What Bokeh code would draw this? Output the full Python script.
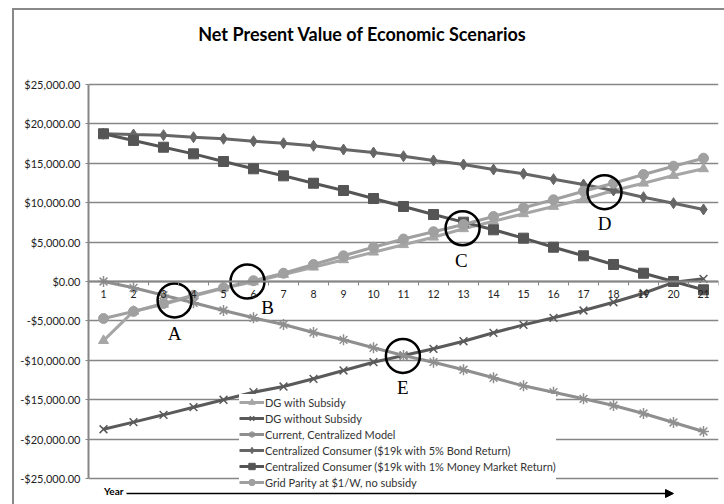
from bokeh.plotting import figure
from bokeh.models import (Range1d, FixedTicker, NumeralTickFormatter, Legend, LegendItem,
                          Label, Arrow, NormalHead)
from bokeh.embed import file_html
from bokeh.resources import INLINE

years = list(range(1, 22))
dg_with_subsidy = [-7500, -3800, -2900, -1850, -850, -50, 890, 1815, 2750, 3720, 4670, 5620,
                   6690, 7650, 8590, 9520, 10440, 11550, 12470, 13450, 14300]
dg_without_subsidy = [-18750, -17850, -16920, -15950, -15010, -14050, -13330, -12350, -11290,
                      -10240, -9390, -8540, -7580, -6510, -5500, -4610, -3680, -2630, -1490, -100, 340]
current_model = [0, -800, -1750, -2700, -3680, -4610, -5460, -6470, -7400, -8410, -9390, -10240,
                 -11200, -12220, -13240, -14050, -14890, -15740, -16750, -17890, -19030]
bond_5pct = [18750, 18650, 18570, 18310, 18110, 17800, 17550, 17220, 16750, 16370, 15900, 15360,
             14850, 14210, 13670, 12980, 12310, 11550, 10700, 9940, 9140]
money_market_1pct = [18750, 17900, 17040, 16200, 15230, 14300, 13410, 12470, 11550, 10530, 9520,
                     8500, 7530, 6560, 5500, 4350, 3260, 2160, 1050, 0, -1050]
grid_parity = [-4700, -3800, -2800, -1750, -800, 100, 1050, 2160, 3260, 4350, 5390, 6320, 7230,
               8250, 9350, 10370, 11460, 12470, 13580, 14630, 15650]

series_names = ["DG with Subsidy", "DG without Subsidy", "Current, Centralized Model",
                "Centralized Consumer ($19k with 5% Bond Return)",
                "Centralized Consumer ($19k with 1% Money Market Return)",
                "Grid Parity at $1/W, no subsidy"]

# crossing annotations
mark_labels = ["A", "B", "C", "D", "E"]
mark_x = [3.37, 5.8, 12.97, 17.7, 10.98]
mark_y = [-2400, 0, 6760, 11330, -9450]
label_x = [3.37, 6.47, 12.93, 17.7, 10.98]
label_y = [-6600, -3300, 2660, 7320, -13490]

y_ticks = [-25000, -20000, -15000, -10000, -5000, 0, 5000, 10000, 15000, 20000, 25000]
Y_MIN, Y_MAX = -25000, 25000

# frame spans the full canvas height: value axis from -25000 (px 478) to 25000 (px 84)
PX = (Y_MAX - Y_MIN) / 394.0
FONT = "Lato"
p = figure(width=724, height=504, output_backend="svg", toolbar_location=None,
           x_range=Range1d(0.5, 21.5),
           y_range=Range1d(Y_MIN - 26 * PX, Y_MAX + 84 * PX),
           min_border_left=88, min_border_right=6, min_border_top=0, min_border_bottom=0)
p.outline_line_color = None
p.background_fill_color = "white"
p.border_fill_color = "white"
p.stylesheets = [":host{position:relative;} :host::after{content:'';position:absolute;left:12px;top:8px;"
                 "right:0;bottom:0;border-left:2.5px solid #888888;border-top:2.5px solid #888888;"
                 "pointer-events:none;z-index:100;}"]

# axes
p.xaxis.fixed_location = 0
p.xaxis.ticker = FixedTicker(ticks=years, minor_ticks=[y + 0.5 for y in range(0, 22)])
p.xaxis.axis_line_color = "#868686"
p.xaxis.axis_line_width = 2
p.xaxis.major_tick_out = 0
p.xaxis.major_tick_in = 0
p.xaxis.minor_tick_out = 4
p.xaxis.minor_tick_in = 0
p.xaxis.minor_tick_line_color = "#868686"
p.xaxis.major_label_standoff = 4
p.xaxis.major_label_text_font = FONT
p.xaxis.major_label_text_font_size = "10.5px"
p.xaxis.major_label_text_color = "#222222"

p.yaxis.ticker = FixedTicker(ticks=y_ticks)
p.yaxis.bounds = (Y_MIN, Y_MAX)
p.yaxis.formatter = NumeralTickFormatter(format="$0,0.00")
p.yaxis.axis_line_color = "#868686"
p.yaxis.axis_line_width = 2
p.yaxis.major_tick_out = 3
p.yaxis.major_tick_in = 0
p.yaxis.major_tick_line_color = "#868686"
p.yaxis.minor_tick_line_color = None
p.yaxis.major_label_standoff = 5
p.yaxis.major_label_text_font = FONT
p.yaxis.major_label_text_font_size = "11px"
p.yaxis.major_label_text_color = "#222222"

p.xgrid.grid_line_color = None
p.ygrid.grid_line_color = "#868686"
p.ygrid.grid_line_width = 1.5

LW = 3
r1 = p.line(years, dg_with_subsidy, line_color="#a6a6a6", line_width=LW)
m1 = p.scatter(years, dg_with_subsidy, marker="triangle", size=10, color="#a6a6a6")
r2 = p.line(years, dg_without_subsidy, line_color="#5a5a5a", line_width=LW)
m2 = p.scatter(years, dg_without_subsidy, marker="x", size=11, line_color="#5a5a5a", line_width=1.5)
r3 = p.line(years, current_model, line_color="#8f8f8f", line_width=LW)
m3 = p.scatter(years, current_model, marker="asterisk", size=11, line_color="#8f8f8f", line_width=1.5)
r4 = p.line(years, bond_5pct, line_color="#666666", line_width=LW)
m4 = p.scatter(years, bond_5pct, marker="diamond", size=11, color="#666666")
r5 = p.line(years, money_market_1pct, line_color="#555555", line_width=LW)
m5 = p.scatter(years, money_market_1pct, marker="square", size=10, color="#555555")
r6 = p.line(years, grid_parity, line_color="#a0a0a0", line_width=LW)
m6 = p.scatter(years, grid_parity, marker="circle", size=10, color="#a0a0a0")

# annotation circles and letters
p.scatter(mark_x, mark_y, marker="circle", size=34, fill_alpha=0, line_color="black", line_width=2.5)
for t, lx, ly in zip(mark_labels, label_x, label_y):
    p.add_layout(Label(x=lx, y=ly, text=t, text_font="Liberation Serif", text_font_size="19px",
                       text_align="center", text_baseline="middle", text_color="black"))

legend = Legend(items=[LegendItem(label=series_names[0], renderers=[r1, m1]),
                       LegendItem(label=series_names[1], renderers=[r2, m2]),
                       LegendItem(label=series_names[2], renderers=[r3, m3]),
                       LegendItem(label=series_names[3], renderers=[r4, m4]),
                       LegendItem(label=series_names[4], renderers=[r5, m5]),
                       LegendItem(label=series_names[5], renderers=[r6, m6])],
                location=(151, 14), orientation="vertical",
                label_text_font=FONT, label_text_font_size="11px", label_text_color="#333333",
                label_height=16, glyph_height=16, glyph_width=25, label_standoff=1,
                spacing=0, padding=2, margin=0,
                background_fill_color="white", background_fill_alpha=1.0,
                border_line_color=None)
p.add_layout(legend, "center")

# title, year label and arrow (positioned in pixels converted to data units)
p.add_layout(Label(x=(362 - 88) / 30 + 0.5, y=Y_MAX + (84 - 33) * PX,
                   text="Net Present Value of Economic Scenarios",
                   text_font=FONT, text_font_style="bold", text_font_size="18px",
                   text_align="center", text_baseline="middle", text_color="black"))
p.add_layout(Label(x=(123 - 88) / 30 + 0.5, y=Y_MIN - 12 * PX, text="Year",
                   text_font=FONT, text_font_style="bold",
                   text_font_size="10px", text_align="right", text_baseline="middle",
                   text_color="black"))
arrow = Arrow(x_start=(126 - 88) / 30 + 0.5, y_start=Y_MIN - 15 * PX,
              x_end=(673 - 88) / 30 + 0.5, y_end=Y_MIN - 15 * PX,
              line_color="black", line_width=1.5, level="overlay",
              end=NormalHead(size=8, fill_color="black", line_color="black"))
p.add_layout(arrow)

open("out.html", "w").write(file_html(p, INLINE))
